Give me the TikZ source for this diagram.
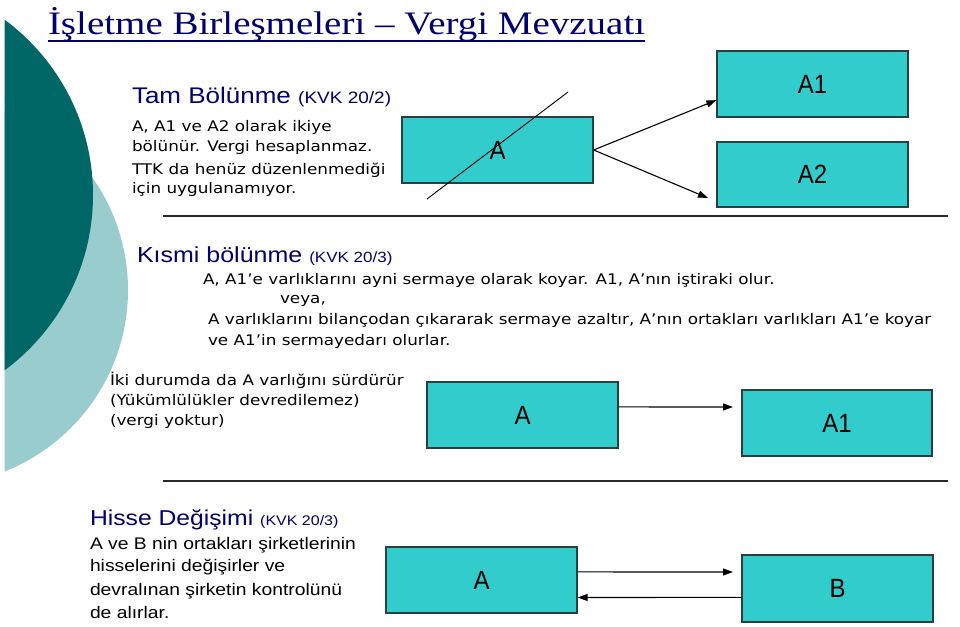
\documentclass[tikz,border=0pt]{standalone}
\usepackage{fontspec}
\usepackage{graphicx}
\setmainfont{Liberation Serif}
\newfontfamily\arialf{Liberation Sans}
\newfontfamily\verdf{DejaVu Sans}
\usetikzlibrary{arrows.meta,calc}
\definecolor{ttnavy}{RGB}{0,0,110}
\definecolor{darkteal}{RGB}{0,102,102}
\definecolor{lightteal}{RGB}{153,204,204}
\definecolor{boxfill}{RGB}{51,204,204}
\definecolor{boxline}{RGB}{40,64,64}
\newcommand\sqz[1]{\scalebox{1}[0.87]{#1}}
\newcommand\fs[1]{\fontsize{#1}{#1}\selectfont}
\tikzset{
  txt/.style={anchor=base west, inner sep=0pt, outer sep=0pt},
  box/.style={draw=boxline, fill=boxfill, line width=1.3pt, minimum width=191pt, minimum height=66pt, inner sep=0pt, font=\arialf\fs{24}},
  rule/.style={draw={rgb,255:red,40;green,40;blue,40}, line width=1.6pt},
  arr/.style={draw=black, line width=1.1pt, -{Triangle[length=10pt,width=7pt]}},
  plain/.style={draw=black, line width=1.1pt}
}
\newcommand\bl[1]{\scalebox{1}[1.1]{#1}}
\begin{document}
\begin{tikzpicture}[x=1pt,y=-1pt]
\useasboundingbox (0,0) rectangle (960,626);
\fill[white] (0,0) rectangle (960,626);
% decorative circles
\begin{scope}
  \clip (4.5,0) rectangle (960,626);
  \fill[lightteal] (-67,290) circle[radius=195];
  \fill[darkteal] (-125,195) circle[radius=218];
\end{scope}
% title
\node[txt, text=ttnavy] (title) at (48,35) {\scalebox{1}[0.84]{\fs{39}İşletme Birleşmeleri – Vergi Mevzuatı}};
\draw[ttnavy, line width=1.8pt] ($(title.base west)+(0,6)$) -- ($(title.base east)+(0,6)$);

% Tam bolunme
\node[txt, text=ttnavy] (h1) at (132,103) {\sqz{\arialf\fs{26}Tam Bölünme \fs{19}(KVK 20/2)}};
\node[txt] (t1) at (132,131) {\sqz{\verdf\fs{16.8}A, A1 ve A2 olarak ikiye}};
\node[txt] (t2) at (132,151) {\sqz{\verdf\fs{16.8}bölünür. Vergi hesaplanmaz.}};
\node[txt] (t3) at (132,174) {\sqz{\verdf\fs{16.8}TTK da henüz düzenlenmediği}};
\node[txt] (t4) at (132,193) {\sqz{\verdf\fs{16.8}için uygulanamıyor.}};

\node[box] (tA) at (497.5,150) {\bl{A}};
\node[box] (tA1) at (812.5,84) {\bl{A1}};
\node[box, minimum height=65pt] (tA2) at (812.5,174.5) {\bl{A2}};
\coordinate (s1) at (568,92);
\coordinate (s2) at (427,199);
\draw[line width=0.9pt] (s1) -- (s2);
\coordinate (e2) at (708,198);
\draw[arr] (tA.east) -- ($(tA1.north west)!0.74!(tA1.south west)$);
\draw[arr] (tA.east) -- (e2);

\coordinate (r1a) at (163,216);
\coordinate (r1b) at (948,216);
\draw[rule] (r1a) -- (r1b);

% Kismi bolunme
\node[txt, text=ttnavy] (h2) at (137,262) {\sqz{\arialf\fs{25}Kısmi bölünme \fs{17}(KVK 20/3)}};
\node[txt] (m1) at (203,284) {\sqz{\verdf\fs{16.8}A, A1’e varlıklarını ayni sermaye olarak koyar. A1, A’nın iştiraki olur.}};
\node[txt] (m2) at (280,303) {\sqz{\verdf\fs{16.8}veya,}};
\node[txt] (m3) at (208,324) {\sqz{\verdf\fs{16.8}A varlıklarını bilançodan çıkararak sermaye azaltır, A’nın ortakları varlıkları A1’e koyar}};
\node[txt] (m4) at (208,345) {\sqz{\verdf\fs{16.8}ve A1’in sermayedarı olurlar.}};
\node[txt] (k1) at (110,385) {\sqz{\verdf\fs{16.8}İki durumda da A varlığını sürdürür}};
\node[txt] (k2) at (110,405) {\sqz{\verdf\fs{16.8}(Yükümlülükler devredilemez)}};
\node[txt] (k3) at (110,425) {\sqz{\verdf\fs{16.8}(vergi yoktur)}};

\node[box] (mA) at (522.5,415) {\bl{A}};
\node[box, minimum width=190pt] (mA1) at (837,423) {\bl{A1}};
\coordinate (me) at (733,407);
\draw[arr] ($(mA.north east)!0.38!(mA.south east)$) -- (me);

\coordinate (r2a) at (163,481);
\coordinate (r2b) at (948,481);
\draw[rule] (r2a) -- (r2b);

% Hisse degisimi
\node[txt, text=ttnavy] (h3) at (90,525) {\sqz{\arialf\fs{24.7}Hisse Değişimi \fs{16}(KVK 20/3)}};
\node[txt] (b1) at (90,549) {\sqz{\arialf\fs{19.3}A ve B nin ortakları şirketlerinin}};
\node[txt] (b2) at (90,571) {\sqz{\arialf\fs{19.3}hisselerini değişirler ve}};
\node[txt] (b3) at (90,595) {\sqz{\arialf\fs{19.3}devralınan şirketin kontrolünü}};
\node[txt] (b4) at (90,618) {\sqz{\arialf\fs{19.3}de alırlar.}};

\node[box] (bA) at (481.5,580) {\bl{A}};
\node[box, minimum height=67pt] (bB) at (837.5,588.5) {\bl{B}};
\coordinate (be) at (733,572);
\draw[arr] ($(bA.north east)!0.38!(bA.south east)$) -- (be);
\draw[arr] ($(bB.north west)!0.63!(bB.south west)$) -- ($(bA.north east)!0.76!(bA.south east)$);
\end{tikzpicture}
\end{document}
